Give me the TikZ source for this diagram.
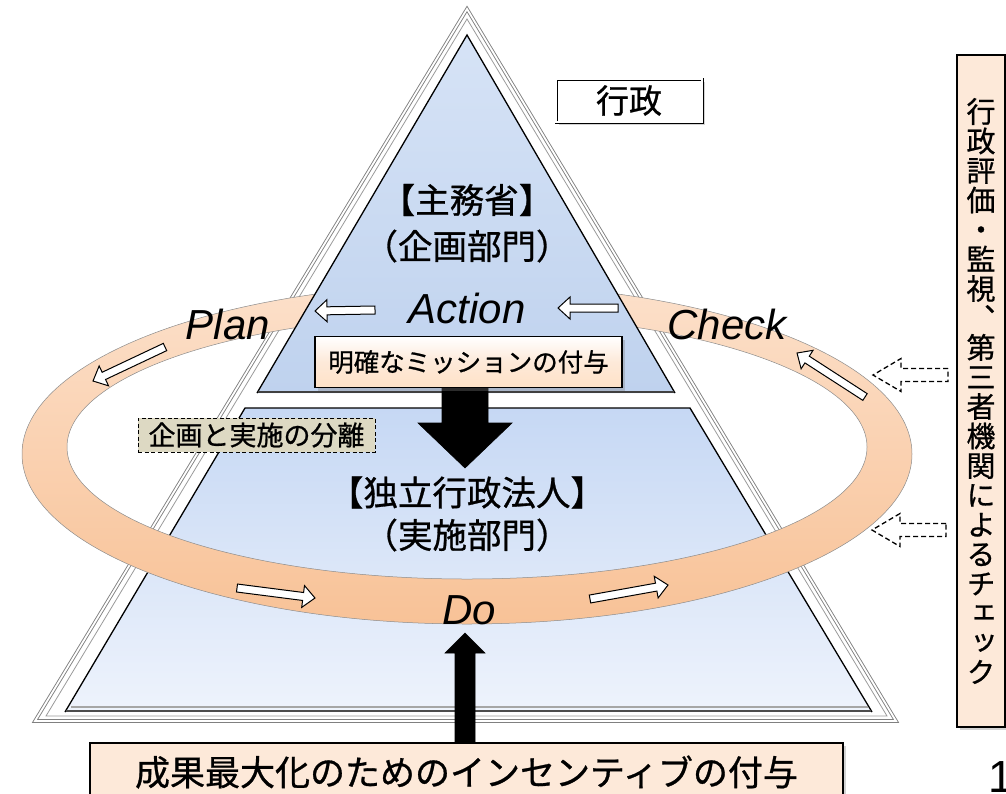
\documentclass[tikz,border=0pt]{standalone}
\usepackage{fontspec}
\newfontfamily\jp[FakeBold=0.8]{Noto Sans CJK JP}
\newfontfamily\vjp[RawFeature=+vert, FakeBold=0.8]{Noto Sans CJK JP}
\newfontfamily\lat{Liberation Sans}
\usetikzlibrary{calc,shadows}
\definecolor{peach}{HTML}{FDE9D9}
\definecolor{ringtop}{HTML}{FCE0CA}
\definecolor{ringbot}{HTML}{F8C297}
\definecolor{bluetop}{HTML}{C6D8F4}
\definecolor{bluebot}{HTML}{EEF3FC}
\definecolor{tritop}{HTML}{D6E3F6}
\definecolor{tribot}{HTML}{BFD2EE}
\definecolor{khaki}{HTML}{DDD9C3}
\definecolor{framegray}{HTML}{808080}
\newcommand\blockarrow[6]{%
  \path[#6] let \p1=(#1), \p2=(#2), \n1={atan2(\y2-\y1,\x2-\x1)}, \n2={veclen(\x2-\x1,\y2-\y1)} in
    ([shift={(\p1)},rotate=\n1]0pt,-#3pt)
    -- ([shift={(\p1)},rotate=\n1]\n2-#5pt,-#3pt)
    -- ([shift={(\p1)},rotate=\n1]\n2-#5pt,-#4pt)
    -- ([shift={(\p1)},rotate=\n1]\n2,0pt)
    -- ([shift={(\p1)},rotate=\n1]\n2-#5pt,#4pt)
    -- ([shift={(\p1)},rotate=\n1]\n2-#5pt,#3pt)
    -- ([shift={(\p1)},rotate=\n1]0pt,#3pt) -- cycle;%
}
\tikzset{
  jptext/.style={font=\jp\fontsize{34.5}{40}\selectfont, inner sep=0pt, text=black},
  pdca/.style={font=\lat\itshape\fontsize{42}{48}\selectfont, inner sep=0pt, text=black},
  hollow/.style={draw=black, line width=1pt, fill=white, line join=miter},
  dashhollow/.style={draw=black, line width=1.3pt, dash pattern=on 5pt off 3pt, fill=white},
  bigarrow/.style={fill=black, draw=black, line width=0.6pt},
  shadowed/.style={drop shadow={shadow xshift=3pt, shadow yshift=-3pt, opacity=0.35}},
  peachbox/.style={draw=black, line width=1.2pt, fill=peach, inner sep=0pt, shadowed},
}
\begin{document}
\begin{tikzpicture}[x=1pt,y=-1pt]
\useasboundingbox (0,0) rectangle (1006,793);
\clip (0,0) rectangle (1006,793);

% frame of the pyramid
\draw[framegray, line width=0.9pt, double=white, double distance=1.8pt, line join=miter]
  (467,9) -- (35,721) -- (896,721) -- cycle;
\draw[framegray!80, line width=0.8pt, line join=miter]
  (467,19) -- (46,716) -- (887,716) -- cycle;

% lower trapezoid
\shade[top color=bluetop, bottom color=bluebot] (245,408) -- (690,408) -- (872,712) -- (65,712) -- cycle;
\draw[black, line width=1.3pt, line join=miter] (65,712) -- (245,408) -- (690,408) -- (872,712);
\draw[black!70, line width=2.2pt] (66,711) -- (871,711);
\draw[black!35, line width=1.2pt] (71,707) -- (868,707);

% PDCA ring
\shade[even odd rule, top color=ringtop, bottom color=ringbot]
  (467,454) ellipse [x radius=445, y radius=170]
  (467,447) ellipse [x radius=400, y radius=132];
\draw[black!45, line width=0.5pt] (467,454) ellipse [x radius=445, y radius=170];
\draw[black!45, line width=0.5pt] (467,447) ellipse [x radius=400, y radius=132];

% upper triangle
\shade[top color=tritop, bottom color=tribot] (467,35) -- (257,393) -- (675,393) -- cycle;
\draw[black, line width=1.3pt, line join=miter] (257,393) -- (467,35) -- (675,393);
\draw[black!75, line width=2.4pt] (258,392) -- (674,392);

% labels in the pyramid
\node[jptext] (shumu) at (467,200) {【主務省】};
\node[jptext] (kikaku) at (467,246) {（企画部門）};
\node[jptext] (dokuritsu) at (467,492.5) {【独立行政法人】};
\node[jptext] (jisshi) at (467,535) {（実施部門）};

% administration box
\node[draw=black, line width=0.8pt, double=white, double distance=1.4pt, fill=white,
      minimum width=146pt, minimum height=43pt, inner sep=0pt, shadowed,
      font=\jp\fontsize{33}{38}\selectfont] (gyosei) at (629,100.5) {行政};

% PDCA words
\node[pdca] (action) at (467,308) {Action};
\node[pdca] (plan) at (228,324) {Plan};
\node[pdca] (check) at (727,324) {Check};
\node[pdca] (do) at (469,610) {Do};

% small hollow arrows along the cycle
\coordinate (a1t) at (375,310); \coordinate (a1h) at (315,311);
\coordinate (a2t) at (618,308); \coordinate (a2h) at (558,308);
\coordinate (p1t) at (165,347); \coordinate (p1h) at (93,381);
\coordinate (c1t) at (865,397); \coordinate (c1h) at (797,353);
\coordinate (d1t) at (237,588); \coordinate (d1h) at (315,598);
\coordinate (d2t) at (590,599); \coordinate (d2h) at (668,585);
\blockarrow{a1t}{a1h}{4}{11}{12}{hollow}
\blockarrow{a2t}{a2h}{4}{11}{12}{hollow}
\blockarrow{p1t}{p1h}{4}{11}{12}{hollow}
\blockarrow{c1t}{c1h}{4}{11}{12}{hollow}
\blockarrow{d1t}{d1h}{4}{11}{12}{hollow}
\blockarrow{d2t}{d2h}{4}{11}{12}{hollow}

% mission box and big down arrow
\coordinate (dnTip) at (465,468);
\blockarrow{465,380}{dnTip}{23}{47}{45}{bigarrow}
\node[draw=black, line width=1.2pt, top color=white, bottom color=peach!60!orange!45,
      middle color=peach, minimum width=307pt, minimum height=51pt, inner sep=0pt, shadowed,
      font=\jp\fontsize{25.5}{30}\selectfont] (mission) at (468.5,362) {明確なミッションの付与};

% separation label
\node[draw=black, line width=1pt, dash pattern=on 4pt off 2.5pt, fill=khaki,
      minimum width=237pt, minimum height=34pt, inner sep=0pt,
      font=\jp\fontsize{27}{32}\selectfont] (bunri) at (256.5,435) {企画と実施の分離};

% incentive box and up arrow
\node[peachbox, minimum width=753pt, minimum height=66pt] (incentive) at (466.5,776) {};
\node[font=\jp\fontsize{35}{40}\selectfont, inner sep=0pt] (inctext) at (466.5,772) {成果最大化のためのインセンティブの付与};
\coordinate (upTip) at (465,633);
\blockarrow{incentive.north -| upTip}{upTip}{10}{20}{20}{bigarrow}

% evaluation box on the right
\node[peachbox, minimum width=48pt, minimum height=672pt] (hyoka) at (981,391) {};
\node[align=center, inner sep=0pt, font=\vjp\fontsize{29}{29.5}\selectfont] (hyokatext) at (981,391)
  {行\\政\\評\\価\\・\\監\\視\\、\\第\\三\\者\\機\\関\\に\\よ\\る\\チ\\ェ\\ッ\\ク};

% dashed arrows from the evaluation box
\coordinate (e1t) at (948,375); \coordinate (e1h) at (873,375);
\coordinate (e2t) at (946,530); \coordinate (e2h) at (872,530);
\blockarrow{e1t}{e1h}{6.5}{16.5}{28}{dashhollow}
\blockarrow{e2t}{e2h}{6.5}{16.5}{28}{dashhollow}

% page number, cut at the edge
\node[anchor=base west, inner sep=0pt, font=\lat\fontsize{45}{50}\selectfont] (pagenum) at (988,792) {1};
\end{tikzpicture}
\end{document}
